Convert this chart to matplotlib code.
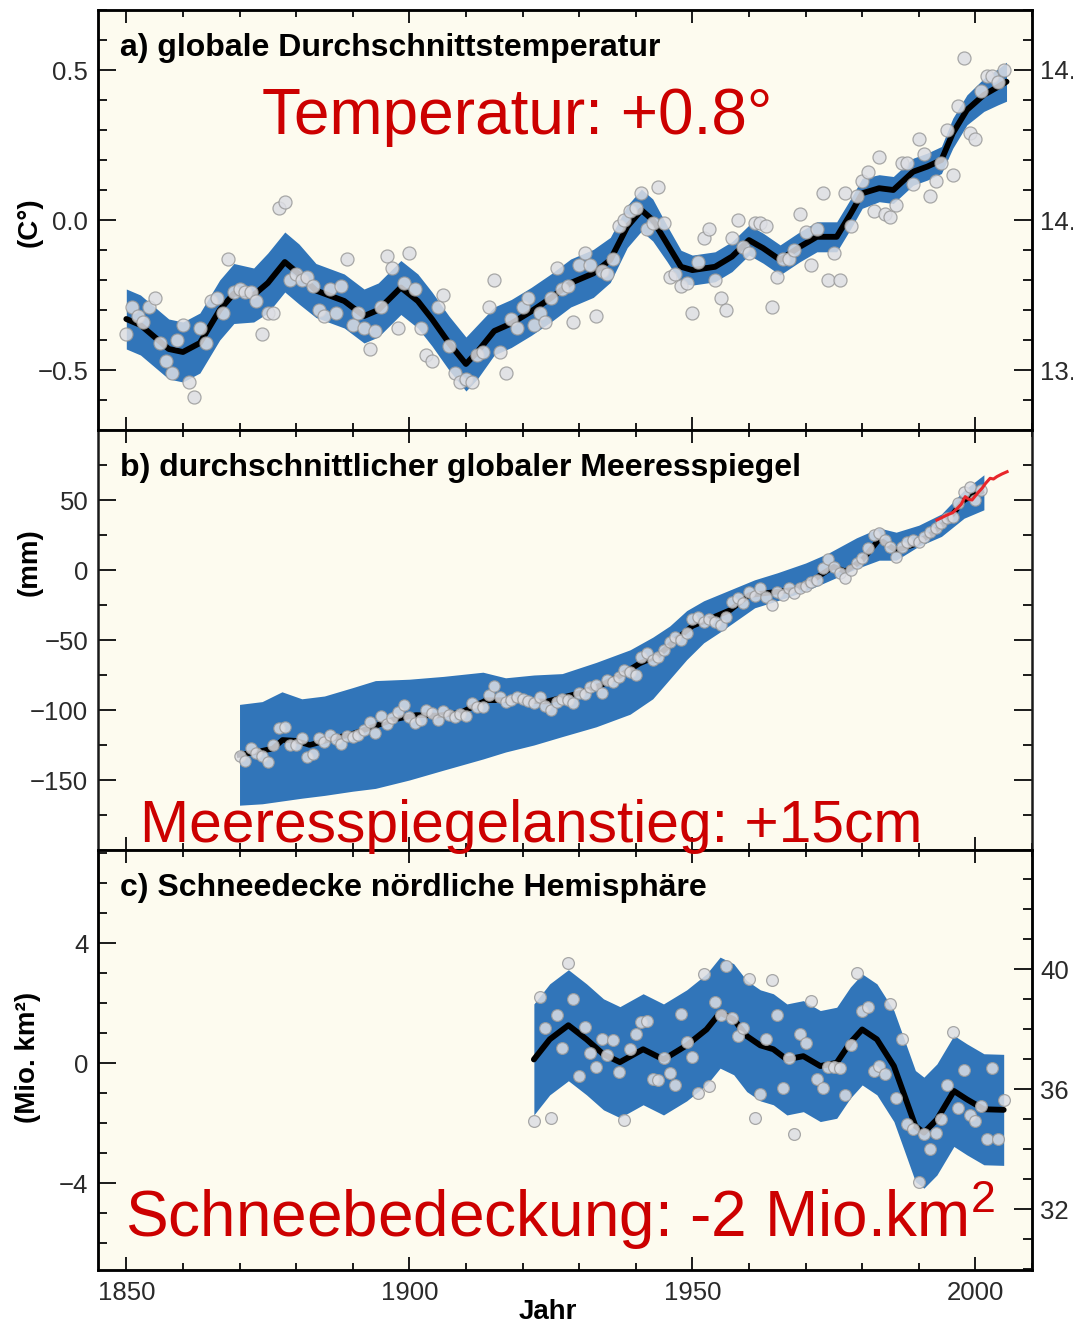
"""Three-panel climate indicator chart: global temperature, sea level, NH snow cover."""

import matplotlib

matplotlib.use("Agg")
import matplotlib.pyplot as plt  # noqa: E402
import numpy as np  # noqa: E402
from matplotlib.ticker import MultipleLocator, FuncFormatter  # noqa: E402

plt.rcParams["font.family"] = ["Liberation Sans", "DejaVu Sans"]
plt.rcParams["mathtext.fontset"] = "custom"
plt.rcParams["mathtext.rm"] = "Liberation Sans"

# ---------------------------------------------------------------- temperature
TEMP_YEARS = np.arange(1850, 2006)
TEMP_ANNUAL = [
    -0.38, -0.29, -0.32, -0.34, -0.29, -0.26, -0.41, -0.47, -0.51, -0.40,  # 1850
    -0.35, -0.54, -0.59, -0.36, -0.41, -0.27, -0.26, -0.31, -0.13, -0.24,  # 1860
    -0.23, -0.24, -0.24, -0.27, -0.38, -0.31, -0.31, 0.04, 0.06, -0.20,    # 1870
    -0.18, -0.20, -0.19, -0.22, -0.30, -0.32, -0.23, -0.31, -0.22, -0.13,  # 1880
    -0.35, -0.31, -0.36, -0.43, -0.37, -0.29, -0.12, -0.16, -0.36, -0.21,  # 1890
    -0.11, -0.23, -0.36, -0.45, -0.47, -0.29, -0.25, -0.42, -0.51, -0.54,  # 1900
    -0.53, -0.54, -0.45, -0.44, -0.29, -0.20, -0.44, -0.51, -0.33, -0.36,  # 1910
    -0.29, -0.26, -0.35, -0.31, -0.34, -0.26, -0.16, -0.23, -0.22, -0.34,  # 1920
    -0.15, -0.11, -0.15, -0.32, -0.17, -0.18, -0.13, -0.02, 0.00, 0.03,    # 1930
    0.04, 0.09, -0.03, -0.01, 0.11, -0.01, -0.19, -0.18, -0.22, -0.21,     # 1940
    -0.31, -0.14, -0.06, -0.03, -0.20, -0.26, -0.30, -0.06, 0.00, -0.09,   # 1950
    -0.11, -0.01, -0.01, -0.02, -0.29, -0.19, -0.13, -0.13, -0.10, 0.02,   # 1960
    -0.04, -0.15, -0.03, 0.09, -0.20, -0.11, -0.20, 0.09, -0.02, 0.08,     # 1970
    0.13, 0.16, 0.03, 0.21, 0.02, 0.01, 0.05, 0.19, 0.19, 0.12,            # 1980
    0.27, 0.22, 0.08, 0.13, 0.19, 0.30, 0.15, 0.38, 0.54, 0.29,            # 1990
    0.27, 0.43, 0.48, 0.48, 0.46, 0.50,                                    # 2000
]
TEMP_SMOOTH_YEARS = [
    1850, 1852.5, 1855, 1857.5, 1860, 1863, 1866.5, 1869, 1872.5, 1875,
    1878, 1880.5, 1883.5, 1888.5, 1892, 1894.5, 1898.5, 1901.5, 1904, 1907,
    1910, 1912, 1915, 1918, 1921.5, 1925, 1928.5, 1932.5, 1935.5, 1938.5,
    1941, 1943, 1945.5, 1948, 1950, 1954, 1957, 1960, 1962.5, 1965.5,
    1969, 1972, 1975.5, 1978, 1980, 1983, 1985.5, 1989, 1991.5, 1994,
    1996, 1998.5, 2001.5, 2004, 2005.5,
]
TEMP_SMOOTH = [
    -0.33, -0.35, -0.39, -0.43, -0.44, -0.41, -0.30, -0.245, -0.25, -0.21,
    -0.14, -0.18, -0.235, -0.27, -0.32, -0.30, -0.225, -0.27, -0.33, -0.41,
    -0.48, -0.44, -0.37, -0.345, -0.305, -0.26, -0.21, -0.178, -0.133, -0.022,
    0.033, 0.0, -0.078, -0.156, -0.167, -0.156, -0.122, -0.067, -0.094, -0.133,
    -0.089, -0.056, -0.056, 0.022, 0.089, 0.106, 0.10, 0.161, 0.178, 0.20,
    0.289, 0.367, 0.417, 0.444, 0.461,
]
TEMP_BAND_HALF = [
    0.10, 0.10, 0.10, 0.10, 0.10, 0.10, 0.10, 0.10, 0.09, 0.10,
    0.10, 0.10, 0.09, 0.09, 0.09, 0.09, 0.09, 0.09, 0.09, 0.09,
    0.09, 0.09, 0.08, 0.08, 0.08, 0.08, 0.08, 0.08, 0.075, 0.07,
    0.07, 0.07, 0.06, 0.055, 0.05, 0.05, 0.05, 0.05, 0.05, 0.05,
    0.05, 0.05, 0.05, 0.05, 0.05, 0.045, 0.045, 0.045, 0.045, 0.045,
    0.05, 0.05, 0.055, 0.06, 0.065,
]

# ------------------------------------------------------------------ sea level
SEA_YEARS = np.arange(1870, 2002)
SEA_ANNUAL = [
    -132.9, -136.2, -127.4, -131.0, -132.9, -136.9, -125.0, -113.0, -112.4, -125.0,  # 1870
    -125.0, -120.0, -133.3, -131.4, -120.2, -122.6, -117.9, -120.7, -124.3, -118.6,  # 1880
    -119.0, -117.9, -114.3, -108.3, -116.2, -104.3, -110.0, -106.0, -101.2, -96.4,   # 1890
    -105.2, -109.5, -107.0, -100.0, -102.4, -107.0, -100.5, -103.6, -105.2, -102.9,  # 1900
    -104.3, -94.8, -97.6, -97.6, -89.3, -82.9, -90.5, -94.0, -92.9, -91.0,           # 1910
    -92.4, -93.3, -95.2, -91.0, -97.1, -100.0, -94.0, -92.4, -92.9, -95.2,           # 1920
    -87.6, -88.6, -83.3, -82.1, -87.6, -78.6, -79.8, -76.2, -71.4, -72.6,            # 1930
    -75.0, -62.4, -59.5, -64.3, -62.4, -57.1, -51.2, -47.6, -50.0, -45.2,            # 1940
    -35.2, -33.3, -36.9, -35.2, -36.9, -39.3, -33.3, -22.6, -20.2, -23.8,            # 1950
    -15.5, -18.6, -13.1, -19.0, -25.0, -15.5, -17.9, -13.1, -16.7, -13.1,            # 1960
    -11.4, -8.3, -7.1, 1.2, 7.6, 2.4, -2.4, -6.0, 0.0, 4.8,                          # 1970
    8.3, 15.5, 25.0, 26.2, 21.4, 16.7, 9.5, 16.7, 20.2, 21.4,                        # 1980
    20.2, 23.3, 27.4, 29.8, 33.3, 36.9, 38.1, 47.6, 56.0, 59.5,                      # 1990
    50.0, 57.1,                                                                      # 2000
]
SEA_SMOOTH_YEARS = [
    1870, 1873, 1875.9, 1877.6, 1880, 1882.4, 1886, 1890, 1893.6, 1897,
    1901.2, 1905, 1909, 1913.6, 1918, 1924.2, 1930, 1934, 1937, 1940.7,
    1944, 1947, 1950, 1953, 1956.7, 1960, 1964, 1968, 1971, 1974.9,
    1977, 1980, 1983, 1986, 1989, 1992, 1995, 1998, 2001,
]
SEA_SMOOTH = [
    -132, -130, -127.5, -121.4, -122, -125, -121, -117, -112, -107,
    -103.6, -104, -102, -93, -93, -94, -88, -82, -76, -66.7,
    -61, -50, -40, -35, -28.6, -18, -16, -14, -8, 2.4,
    -1, 7, 22, 14, 18, 25, 35, 50, 56,
]
SEA_BAND_YEARS = [
    1870, 1874, 1877.5, 1881, 1885, 1890, 1894, 1900, 1906, 1913,
    1917, 1922, 1927, 1933, 1939, 1943, 1946, 1949, 1952, 1955,
    1961, 1965, 1970, 1974, 1979, 1983, 1986, 1990, 1994, 1998,
    2001.5,
]
SEA_BAND_UPPER = [
    -96, -94, -87, -92, -90, -84, -79, -78, -76, -73,
    -77, -75, -74, -66, -57, -48, -40, -29, -22, -17,
    -7, -2, 5, 12, 23, 30, 27, 32, 40, 57,
    68,
]
SEA_BAND_LOWER = [
    -168, -167, -165, -163, -161, -158, -156, -150, -143, -135,
    -130, -125, -119, -112, -103, -92, -78, -64, -52, -44,
    -27, -22, -15, -8, 1, 7, 7, 17, 24, 37,
    43,
]
SAT_YEARS = [1993.2, 1994.1, 1995.0, 1996.0, 1996.8, 1997.5, 1998.2, 1998.8, 1999.4,
             2000.0, 2000.6, 2001.2, 2001.8, 2002.6, 2003.2, 2003.8, 2004.7, 2005.6]
SAT_LEVEL = [35.7, 37.5, 39.3, 41.0, 44.0, 47.0, 52.4, 50.5, 50.0,
             53.0, 55.9, 58.5, 61.9, 65.5, 65.0, 66.7, 68.6, 70.2]

# ----------------------------------------------------------------- snow cover
SNOW_YEARS = np.arange(1922, 2006)
SNOW_ANNUAL = [
    -1.92, 2.22, 1.19, -1.83, 1.61, 0.52, 3.33, 2.13,                      # 1922
    -0.42, 1.22, 0.36, -0.11, 0.80, 0.27, 0.78, -0.29, -1.90, 0.47,        # 1930
    0.97, 1.38, 1.41, -0.53, -0.56, 0.19, -0.31, -0.73, 1.63, 0.72,        # 1940
    0.22, -1.00, 2.97, -0.76, 2.04, 1.60, 3.24, 1.52, 0.91, 1.19,          # 1950
    2.82, -1.81, -1.03, 0.80, 2.78, 1.60, -0.83, 0.19, -2.37, 0.97,        # 1960
    0.69, 2.08, -0.53, -0.81, -0.11, -0.12, -0.14, -1.06, 0.60, 3.00,      # 1970
    1.74, 1.89, -0.26, -0.09, -0.37, 1.97, -1.14, 0.82, -2.03, -2.18,      # 1980
    -3.96, -2.34, -2.84, -2.33, -1.87, -0.73, 1.04, -1.48, -0.23, -1.73,   # 1990
    -1.92, -1.42, -2.53, -0.14, -2.53, -1.22,                              # 2000
]
SNOW_SMOOTH_YEARS = [
    1922, 1924.8, 1928.1, 1931.3, 1934.3, 1937.2, 1941.3, 1944.9, 1949, 1952.5,
    1954.9, 1957.3, 1959.6, 1962, 1964.3, 1966.7, 1969.6, 1972.6, 1975.5, 1977.9,
    1980, 1982.6, 1985.6, 1987.3, 1989.4, 1990.9, 1993.2, 1996.2, 1998.5, 2001.5,
    2005,
]
SNOW_SMOOTH = [
    0.13, 0.80, 1.27, 0.80, 0.30, 0.04, 0.47, 0.13, 0.60, 1.13,
    1.69, 1.47, 0.91, 0.60, 0.47, 0.13, 0.24, -0.09, 0.02, 0.69,
    1.13, 0.80, -0.09, -0.98, -2.09, -2.31, -1.87, -0.92, -1.20, -1.53,
    -1.55,
]
SNOW_BAND_HALF = 1.85

# ------------------------------------------------------------------- styling
BG = "#fdfbef"
BAND = "#3175b9"
RED = "#cc0000"
DOT = dict(facecolor="#dddee4", edgecolor="#9a9a9a", linewidths=0.9, alpha=0.85, zorder=4)
TICK_COLOR = "#2a2a2a"


def minus_fmt(fmt):
    return FuncFormatter(lambda v, _: (fmt % v).replace("-", "\u2212"))


W, H = 1073, 1327
fig = plt.figure(figsize=(W / 100, H / 100), dpi=100, facecolor="white")

left, right = 98 / W, 1032 / W
rows = [(10, 430), (430, 850), (850, 1269.5)]
axes = []
for top, bot in rows:
    ax = fig.add_axes([left, 1 - bot / H, right - left, (bot - top) / H])
    axes.append(ax)
ax_t, ax_s, ax_n = axes


def style(ax, ymaj, ymin, right_ticks=False, xlabels=False):
    ax.set_facecolor(BG)
    ax.set_xlim(1845, 2010)
    ax.xaxis.set_major_locator(MultipleLocator(50))
    ax.xaxis.set_minor_locator(MultipleLocator(10))
    ax.yaxis.set_major_locator(MultipleLocator(ymaj))
    ax.yaxis.set_minor_locator(MultipleLocator(ymin))
    for sp in ax.spines.values():
        sp.set_linewidth(1.8)
        sp.set_color("#1a1a1a")
    ax.tick_params(axis="x", which="both", direction="in", top=True, bottom=True,
                   width=1.4, color="#1a1a1a", labelbottom=xlabels,
                   labelsize=18.5, labelcolor=TICK_COLOR, pad=8)
    ax.tick_params(axis="x", which="major", length=9.5)
    ax.tick_params(axis="x", which="minor", length=5)
    ax.tick_params(axis="y", which="both", direction="in", left=True, right=right_ticks,
                   width=1.4, color="#1a1a1a", labelsize=18.5, labelcolor=TICK_COLOR, pad=7)
    ax.tick_params(axis="y", which="major", length=13)
    ax.tick_params(axis="y", which="minor", length=6.5)


def twin(ax, lo, hi, ymaj, ymin, fmt):
    tw = ax.twinx()
    tw.set_ylim(lo, hi)
    tw.yaxis.set_major_locator(MultipleLocator(ymaj))
    tw.yaxis.set_minor_locator(MultipleLocator(ymin))
    tw.yaxis.set_major_formatter(minus_fmt(fmt))
    tw.tick_params(axis="y", which="both", direction="in", width=1.4, color="#1a1a1a",
                   labelsize=18.5, labelcolor=TICK_COLOR, pad=6)
    tw.tick_params(axis="y", which="major", length=13)
    tw.tick_params(axis="y", which="minor", length=6.5)
    for sp in tw.spines.values():
        sp.set_linewidth(1.8)
    return tw


# (a) temperature
style(ax_t, 0.5, 0.1)
ax_t.set_ylim(-0.7, 0.7)
ax_t.yaxis.set_major_formatter(minus_fmt("%.1f"))
lo = np.array(TEMP_SMOOTH) - np.array(TEMP_BAND_HALF)
hi = np.array(TEMP_SMOOTH) + np.array(TEMP_BAND_HALF)
ax_t.fill_between(TEMP_SMOOTH_YEARS, lo, hi, color=BAND, lw=0, zorder=2)
ax_t.plot(TEMP_SMOOTH_YEARS, TEMP_SMOOTH, color="black", lw=4.2, solid_joinstyle="round",
          solid_capstyle="round", zorder=3)
ax_t.scatter(TEMP_YEARS, TEMP_ANNUAL, s=88, **DOT)
twin(ax_t, 13.3, 14.7, 0.5, 0.1, "%.1f")

# (b) sea level
style(ax_s, 50, 25, right_ticks=True)
ax_s.set_ylim(-200, 100)
ax_s.set_yticks([-150, -100, -50, 0, 50])
ax_s.fill_between(SEA_BAND_YEARS, SEA_BAND_LOWER, SEA_BAND_UPPER, color=BAND, lw=0, zorder=2)
ax_s.plot(SEA_SMOOTH_YEARS, SEA_SMOOTH, color="black", lw=4.0, solid_joinstyle="round", zorder=3)
ax_s.scatter(SEA_YEARS, SEA_ANNUAL, s=66, **DOT)
ax_s.plot(SAT_YEARS, SAT_LEVEL, color="#e8262b", lw=2.2, zorder=5)

# (c) snow cover
style(ax_n, 4, 1, xlabels=True)
ax_n.set_ylim(-6.87, 7.11)
ax_n.set_yticks([-4, 0, 4])
ax_n.set_yticklabels(["\u22124", "0", "4"])
s_lo = np.array(SNOW_SMOOTH) - SNOW_BAND_HALF
s_hi = np.array(SNOW_SMOOTH) + SNOW_BAND_HALF
ax_n.fill_between(SNOW_SMOOTH_YEARS, s_lo, s_hi, color=BAND, lw=0, zorder=2)
ax_n.plot(SNOW_SMOOTH_YEARS, SNOW_SMOOTH, color="black", lw=4.2, solid_joinstyle="round",
          solid_capstyle="round", zorder=3)
ax_n.scatter(SNOW_YEARS, SNOW_ANNUAL, s=72, **DOT)
tw_n = twin(ax_n, -6.87 + 36.86, 7.11 + 36.86, 4, 1, "%d")
tw_n.set_yticks([32, 36, 40])

# panel titles
titles = ["a) globale Durchschnittstemperatur",
          "b) durchschnittlicher globaler Meeresspiegel",
          "c) Schneedecke nördliche Hemisphäre"]
for ax, t in zip(axes, titles):
    ax.text(0.0236, 0.89, t, transform=ax.transAxes, fontsize=23, fontweight="bold",
            ha="left", va="baseline", color="black", zorder=6)

# axis labels
fig.text(30 / W, 1 - 222 / H, "(C°)", rotation=90, ha="center", va="center",
         fontsize=20, fontweight="bold")
fig.text(30 / W, 1 - 562 / H, "(mm)", rotation=90, ha="center", va="center",
         fontsize=20, fontweight="bold")
fig.text(28 / W, 1 - 1057 / H, "(Mio. km²)", rotation=90, ha="center", va="center",
         fontsize=20, fontweight="bold")
fig.text(548 / W, 1 - 1312 / H, "Jahr", ha="center", va="center",
         fontsize=20, fontweight="bold")

# red summary annotations
fig.text(262 / W, 1 - 134 / H, "Temperatur: +0.8°", color=RED, fontsize=46,
         ha="left", va="baseline", zorder=10)
fig.text(140 / W, 1 - 842 / H, "Meeresspiegelanstieg: +15cm", color=RED, fontsize=42.3,
         ha="left", va="baseline", zorder=10)
fig.text(125 / W, 1 - 1237 / H, "Schneebedeckung: -2 Mio.km$^2$", color=RED, fontsize=46,
         ha="left", va="baseline", zorder=10)

fig.savefig("out.png", dpi=100, facecolor="white")
